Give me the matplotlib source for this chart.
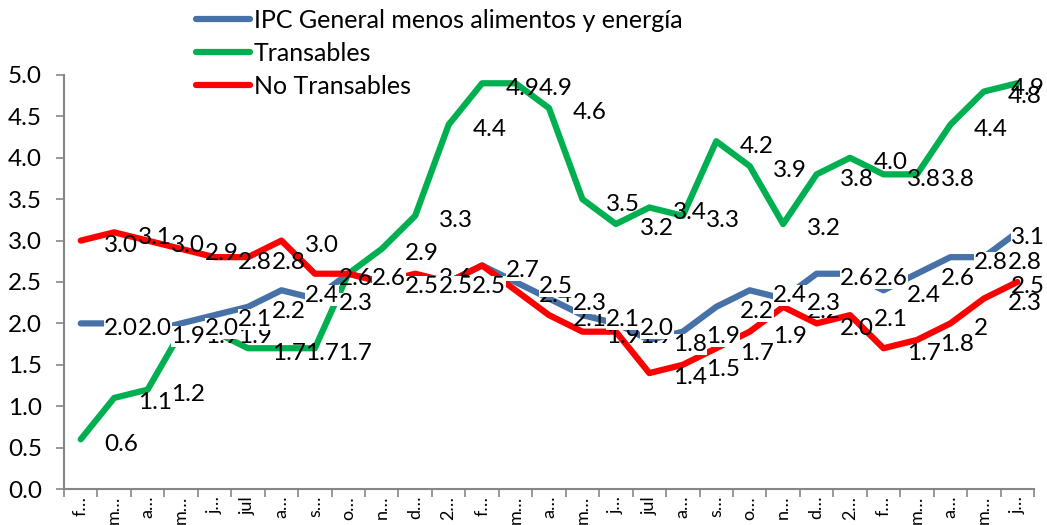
import numpy as np
import matplotlib
matplotlib.use("Agg")
import matplotlib.pyplot as plt

months = ["f…", "m…", "a…", "m…", "j…", "jul", "a…", "s…", "o…", "n…", "d…", "2…",
          "f…", "m…", "a…", "m…", "j…", "jul", "a…", "s…", "o…", "n…", "d…", "2…",
          "f…", "m…", "a…", "m…", "j…"]

core = [2.0, 2.0, 1.9, 2.0, 2.1, 2.2, 2.4, 2.3, 2.6, 2.5, 2.5, 2.5, 2.7, 2.5, 2.3,
        2.1, 2.0, 1.8, 1.9, 2.2, 2.4, 2.3, 2.6, 2.6, 2.4, 2.6, 2.8, 2.8, 3.1]
tradables = [0.6, 1.1, 1.2, 1.9, 1.9, 1.7, 1.7, 1.7, 2.6, 2.9, 3.3, 4.4, 4.9, 4.9, 4.6,
             3.5, 3.2, 3.4, 3.3, 4.2, 3.9, 3.2, 3.8, 4.0, 3.8, 3.8, 4.4, 4.8, 4.9]
# one label in the source shows "2" instead of "2.0", kept as int
non_tradables = [3.0, 3.1, 3.0, 2.9, 2.8, 2.8, 3.0, 2.6, 2.6, 2.5, 2.6, 2.5, 2.7, 2.4, 2.1,
                 1.9, 1.9, 1.4, 1.5, 1.7, 1.9, 2.2, 2.0, 2.1, 1.7, 1.8, 2, 2.3, 2.5]

# name, values, colour, label zorder, label box
series = [
    ("IPC General menos alimentos y energía", core, "#4672A8", 9, True),
    ("Transables", tradables, "#00B050", 7, False),
    ("No Transables", non_tradables, "#FF0000", 6, False),
]

plt.rcParams["font.family"] = ["Lato", "DejaVu Sans"]
FS = 17.5

W, H = 1047, 525
fig = plt.figure(figsize=(W / 100, H / 100), dpi=100)
ax = fig.add_axes([64 / W, 36 / H, 970 / W, 414 / H])

x = np.arange(len(months))
for i, (name, vals, color, _, _) in enumerate(series):
    ax.plot(x, vals, color=color, lw=4.5, solid_joinstyle="round",
            solid_capstyle="round", zorder=2 + i, label=name)


def add_labels(vals, z, filled):
    last = len(vals) - 1
    box = dict(boxstyle="square,pad=0", fc="white", ec="none") if filled else None
    for i, v in enumerate(vals):
        txt = f"{v:.1f}" if isinstance(v, float) else str(v)
        if i == last:
            # excel pushes the last label back inside the chart area
            ax.annotate(txt, xy=(1045 / W, v), xycoords=("figure fraction", "data"),
                        xytext=(0, -3.5), textcoords="offset points",
                        ha="right", va="center", fontsize=FS, bbox=box,
                        zorder=z, annotation_clip=False)
        else:
            ax.annotate(txt, xy=(i, v), xytext=(17, -3.5), textcoords="offset points",
                        ha="left", va="center", fontsize=FS, bbox=box,
                        zorder=z, annotation_clip=False)


for name, vals, color, z, filled in series:
    add_labels(vals, z, filled)

ax.set_xlim(-0.5, len(months) - 0.5)
ax.set_ylim(0, 5)
ax.set_yticks(np.arange(0, 5.01, 0.5))
ax.set_yticklabels([f"{v:.1f}" for v in np.arange(0, 5.01, 0.5)], fontsize=FS)

ax.set_xticks(np.arange(-0.5, len(months)), labels=[])
ax.set_xticks(x, labels=months, minor=True, rotation=90, fontsize=13)
ax.tick_params(axis="x", which="major", length=6, color="#868686", width=1.2)
ax.tick_params(axis="x", which="minor", length=0, pad=5)
ax.tick_params(axis="y", length=6, color="#868686", width=1.2, pad=10)

for s in ["top", "right"]:
    ax.spines[s].set_visible(False)
for s in ["left", "bottom"]:
    ax.spines[s].set_color("#868686")
    ax.spines[s].set_linewidth(1.5)

fig.legend(loc="upper left", bbox_to_anchor=(196 / W, 1 - 9 / H), frameon=False,
           fontsize=18, handlelength=2.15, handletextpad=0.15, labelspacing=0.4,
           borderpad=0, borderaxespad=0)

fig.savefig("out.png", dpi=100)
